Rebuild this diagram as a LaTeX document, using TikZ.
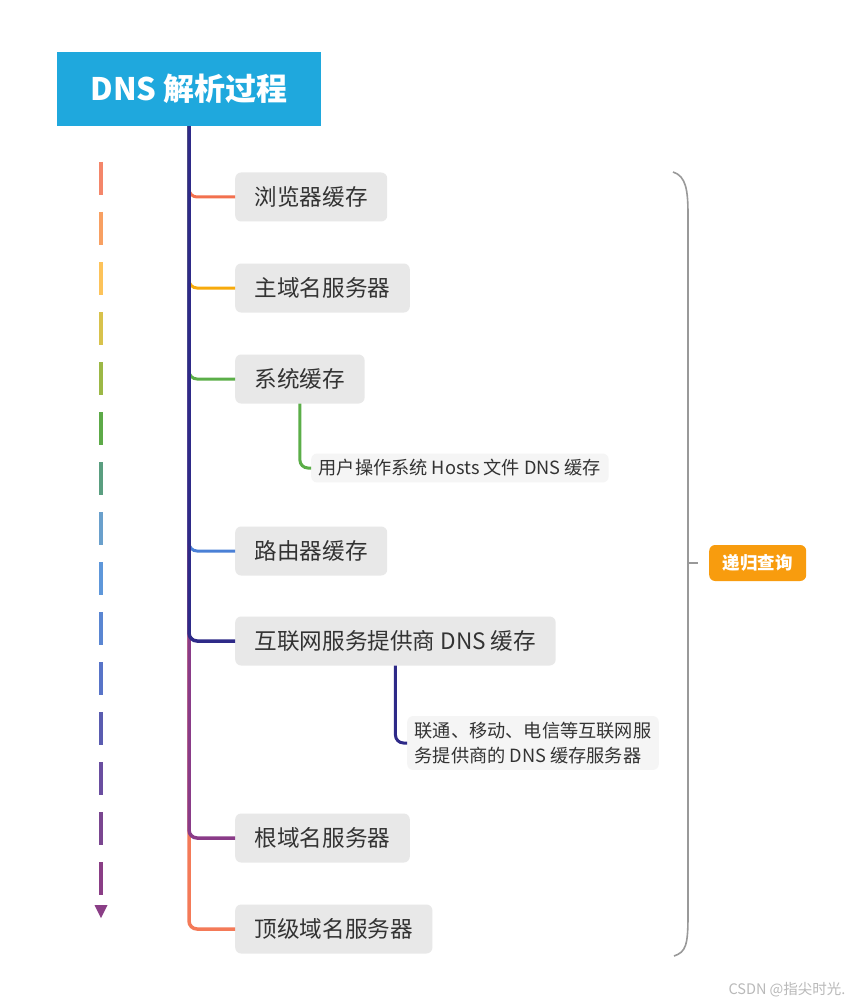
\documentclass[tikz,border=0pt]{standalone}
\usepackage{fontspec}
\setmainfont{Noto Sans CJK SC}
\usepackage{xcolor}
\usepackage{tikz}
\usetikzlibrary{arrows.meta,positioning}
\definecolor{titleblue}{HTML}{1FA8DD}
\definecolor{boxgray}{HTML}{E8E8E8}
\definecolor{subgray}{HTML}{F5F5F5}
\definecolor{inkgray}{HTML}{333333}
\definecolor{navy}{HTML}{2E2A88}
\definecolor{brred}{HTML}{F2704E}
\definecolor{bramber}{HTML}{F7AA0C}
\definecolor{brgreen}{HTML}{5BAE48}
\definecolor{brblue}{HTML}{4A80D6}
\definecolor{brpurple}{HTML}{8A3B88}
\definecolor{brorange}{HTML}{F47A58}
\definecolor{recurorange}{HTML}{F89C0E}
\definecolor{d1}{HTML}{F4866A}
\definecolor{d2}{HTML}{F8A062}
\definecolor{d3}{HTML}{FDC35A}
\definecolor{d4}{HTML}{D8C24C}
\definecolor{d5}{HTML}{9CB846}
\definecolor{d6}{HTML}{5DAA48}
\definecolor{d7}{HTML}{5A9E80}
\definecolor{d8}{HTML}{6AA0CC}
\definecolor{d9}{HTML}{5E97DA}
\definecolor{d10}{HTML}{5A86D2}
\definecolor{d11}{HTML}{5874C8}
\definecolor{d12}{HTML}{5A5CB0}
\definecolor{d13}{HTML}{6A4EA0}
\definecolor{d14}{HTML}{7A4690}
\definecolor{d15}{HTML}{8A3E86}
\newcommand{\subfont}{\fontsize{18.2}{25}\selectfont}

\begin{document}
\begin{tikzpicture}[
  x=1pt, y=-1pt,
  mainbox/.style={fill=boxgray, rounded corners=6pt, text=inkgray, anchor=west,
    font=\fontsize{22.6}{26}\selectfont, inner xsep=19.5pt, minimum height=49pt},
  subbox/.style={fill=subgray, rounded corners=6pt, text=inkgray, anchor=west,
    font=\subfont, inner xsep=7.5pt, inner ysep=6pt, align=left},
  branch/.style={line width=3pt, rounded corners=8pt},
  trunk/.style={line width=3.5pt, rounded corners=8pt}
]
\useasboundingbox[fill=white] (0,0) rectangle (854,1008);

\node[fill=titleblue, text=white, font=\fontsize{31}{36}\selectfont\bfseries,
  minimum width=264pt, minimum height=74pt] (title) at (189,89) {DNS 解析过程};

\node[mainbox] (browser) at (235,197) {浏览器缓存};
\node[mainbox] (primary) at (235,288) {主域名服务器};
\node[mainbox] (system) at (235,379) {系统缓存};
\node[subbox] (hosts) at (311,468) {用户操作系统 Hosts 文件 DNS 缓存};
\node[mainbox] (router) at (235,551) {路由器缓存};
\node[mainbox] (isp) at (235,641) {互联网服务提供商 DNS 缓存};
\node[subbox] (ispnote) at (407,743)
  {联通、移动、电信等互联网服\\务提供商的 DNS 缓存服务器};
\node[mainbox] (rootns) at (235,838) {根域名服务器};
\node[mainbox] (tldns) at (235,929) {顶级域名服务器};

% branches, drawn bottom-up so the trunk keeps the right colours
\draw[trunk, brorange] (title.south) |- (tldns.west);
\draw[trunk, brpurple] (title.south) |- (rootns.west);
\foreach \n/\c in {browser/brred,primary/bramber,system/brgreen,router/brblue}
  \draw[branch, \c] (title.south) |- (\n.west);
\draw[trunk, navy] (title.south) |- (isp.west);
\draw[branch, brgreen] (system.south) |- (hosts.west);
\draw[branch, navy] (isp.south) |- (ispnote.west);

% order arrow on the left
\foreach \i in {1,...,15}
  \draw[line width=3.5pt, d\i] (101,112+50*\i) -- (101,145+50*\i);
\fill[d15] (94.5,905) -- (107.5,905) -- (101,918) -- cycle;

% brace
\draw[line width=1.6pt, gray!80] (673,172) .. controls (686,176) and (688,190) .. (688,215)
  -- (688,915) .. controls (688,945) and (686,952) .. (674,956);
\coordinate (bmid) at (688,563);
\node[fill=recurorange, text=white, rounded corners=6pt, font=\fontsize{17.5}{20}\selectfont\bfseries,
  minimum width=97pt, minimum height=36pt, anchor=west] (recur) at (709,563) {递归查询};
\draw[line width=1.2pt, gray!80] (bmid) -- ([xshift=-11pt]recur.west);

\node[text=gray!55, font=\fontsize{14.5}{17}\selectfont, anchor=east] (mark) at (849,990) {CSDN @指尖时光.};
\end{tikzpicture}
\end{document}
